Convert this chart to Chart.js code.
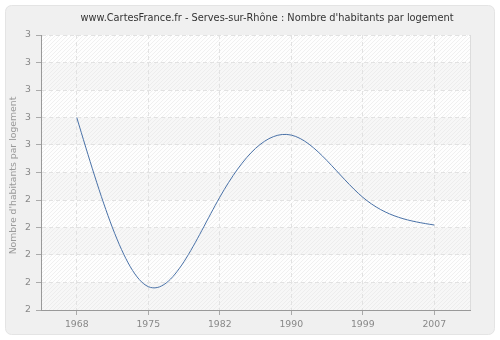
<!DOCTYPE html>
<html>
<head>
<meta charset="utf-8">
<script src="https://cdn.jsdelivr.net/npm/chart.js@4/dist/chart.umd.min.js"></script>
<style>
  body { margin: 0; background: #fff; }
</style>
</head>
<body>
<canvas id="myLine" width="500" height="340"></canvas>
<script>
const years = ["1968", "1975", "1982", "1990", "1999", "2007"];
const habitants = [2.70, 2.085, 2.41, 2.636, 2.41, 2.309];
const yTickLabels = ["2", "2", "2", "2", "2", "3", "3", "3", "3", "3", "3"];
const titleText = "www.CartesFrance.fr - Serves-sur-Rhône : Nombre d'habitants par logement";
const yTitle = "Nombre d'habitants par logement";

const font = "DejaVu Sans, Verdana, sans-serif";

// frame, banded + hatched plot background, title and y title
const decor = {
  id: "decor",
  beforeDraw(chart) {
    const c = chart.ctx;
    const a = chart.chartArea;
    const ys = chart.scales.y;
    c.save();
    c.fillStyle = "#fff";
    c.fillRect(0, 0, chart.width, chart.height);
    c.beginPath();
    c.roundRect(5.5, 5.5, 489, 329, 6);
    c.fillStyle = "#f0f0f0";
    c.fill();
    c.strokeStyle = "#e4e4e4";
    c.lineWidth = 1;
    c.stroke();

    c.fillStyle = "#fefefe";
    c.fillRect(a.left, a.top, a.right - a.left, a.bottom - a.top);
    // alternate bands, counted from the top
    const t = ys.ticks.map((k) => ys.getPixelForValue(k.value)).sort((p, q) => p - q);
    c.fillStyle = "#f7f7f7";
    for (let i = 1; i < t.length - 1; i += 2) {
      c.fillRect(a.left, t[i], a.right - a.left, t[i + 1] - t[i]);
    }
    c.beginPath();
    c.rect(a.left, a.top, a.right - a.left, a.bottom - a.top);
    c.clip();
    c.strokeStyle = "rgba(225,225,225,0.45)";
    c.lineWidth = 1;
    for (let x = a.left - 300; x < a.right + 300; x += 4) {
      c.beginPath();
      c.moveTo(x, a.bottom);
      c.lineTo(x + (a.bottom - a.top), a.top);
      c.stroke();
    }
    c.restore();

    c.save();
    c.fillStyle = "#333";
    c.font = "9.8px " + font;
    c.textAlign = "center";
    c.textBaseline = "middle";
    c.fillText(titleText, 267, 18);
    c.translate(13.5, (a.top + a.bottom) / 2 + 3);
    c.rotate(-Math.PI / 2);
    c.fillStyle = "#999";
    c.font = "9.3px " + font;
    c.fillText(yTitle, 0, 0);
    c.restore();
  },
  afterDraw(chart) {
    const c = chart.ctx;
    const a = chart.chartArea;
    c.save();
    c.strokeStyle = "#dcdcdc";
    c.beginPath();
    c.moveTo(a.right + 0.5, a.top);
    c.lineTo(a.right + 0.5, a.bottom);
    c.stroke();
    c.restore();
  }
};

// natural cubic spline through the points (in pixel space)
const naturalSpline = {
  id: "naturalSpline",
  beforeDatasetsDraw(chart) {
    const meta = chart.getDatasetMeta(0);
    const line = meta.dataset;
    line.updateControlPoints(chart.chartArea, "x");
    const pts = meta.data;
    const n = pts.length;
    const h = pts[1].x - pts[0].x;
    const y = pts.map((p) => p.y);
    // tridiagonal solve for second derivatives, ends at zero
    const M = new Array(n).fill(0);
    const a = [], b = [], cc = [], d = [];
    for (let i = 1; i < n - 1; i++) {
      a.push(1); b.push(4); cc.push(1);
      d.push(6 * (y[i + 1] - 2 * y[i] + y[i - 1]) / (h * h));
    }
    const m = d.length;
    for (let i = 1; i < m; i++) {
      const w = a[i] / b[i - 1];
      b[i] -= w * cc[i - 1];
      d[i] -= w * d[i - 1];
    }
    const sol = new Array(m);
    sol[m - 1] = d[m - 1] / b[m - 1];
    for (let i = m - 2; i >= 0; i--) sol[i] = (d[i] - cc[i] * sol[i + 1]) / b[i];
    for (let i = 0; i < m; i++) M[i + 1] = sol[i];
    const slope = (i) => {
      if (i < n - 1) return (y[i + 1] - y[i]) / h - h * (2 * M[i] + M[i + 1]) / 6;
      return (y[i] - y[i - 1]) / h + h * (2 * M[i] + M[i - 1]) / 6;
    };
    for (let i = 0; i < n; i++) {
      const s = slope(i);
      pts[i].cp1x = pts[i].x - h / 3;
      pts[i].cp1y = pts[i].y - s * h / 3;
      pts[i].cp2x = pts[i].x + h / 3;
      pts[i].cp2y = pts[i].y + s * h / 3;
    }
  }
};

new Chart(document.getElementById("myLine"), {
  type: "line",
  data: {
    labels: years,
    datasets: [
      {
        data: habitants,
        borderColor: "#4a72a8",
        borderWidth: 1,
        pointRadius: 0,
        tension: 0.4,
        fill: false,
      },
    ],
  },
  options: {
    responsive: false,
    animation: false,
    layout: { padding: { top: 35, right: 30, left: 0, bottom: 0 } },
    plugins: { legend: { display: false }, title: { display: false }, tooltip: { enabled: false } },
    scales: {
      x: {
        offset: true,
        afterFit(s) { s.height = 30; },
        grid: {
          offset: false,
          color: "#e2e2e2",
          tickColor: "#aaa",
          tickLength: 5,
          tickBorderDash: [],
        },
        border: { color: "#999", dash: [4, 3] },
        ticks: { color: "#888", font: { family: font, size: 9.3 }, padding: 4, maxRotation: 0 },
      },
      y: {
        min: 2,
        max: 3,
        afterFit(s) { s.width = 41; },
        ticks: {
          stepSize: 0.1,
          color: "#888",
          font: { family: font, size: 9.3 },
          padding: 5,
          callback: (v, i) => yTickLabels[i],
        },
        grid: { color: "#e2e2e2", tickColor: "#aaa", tickLength: 5, tickBorderDash: [] },
        border: { color: "#999", dash: [4, 3] },
      },
    },
  },
  plugins: [decor, naturalSpline],
});
</script>
</body>
</html>
